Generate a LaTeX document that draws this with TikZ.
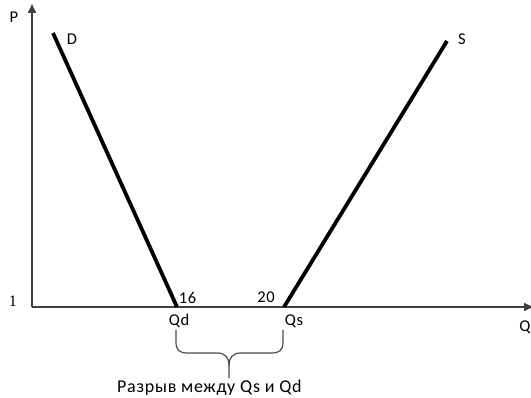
\documentclass[tikz,border=0pt]{standalone}
\usepackage{fontspec}
\setmainfont{Carlito}[LetterSpace=4]
\newfontfamily\serifone{Liberation Serif}
\usetikzlibrary{arrows.meta}
\begin{document}
\begin{tikzpicture}[x=1pt,y=-1pt,
  axis/.style={draw=black!75,line width=1.6pt,-{Triangle[length=9pt,width=8pt]}},
  curve/.style={draw=black,line width=3.8pt},
  lbl/.style={font=\fontsize{16.5}{18}\selectfont,inner sep=0pt},
  bracestyle/.style={draw=black!70,line width=1.2pt}]
\useasboundingbox (0,0) rectangle (531,398);
\coordinate (O) at (32,307);
\coordinate (Ptop) at (32,4);
\coordinate (Qend) at (533,307);
\coordinate (dtop) at (53,33);
\coordinate (dbot) at (177,307);
\coordinate (stop) at (447,41);
\coordinate (sbot) at (284,307);
\draw[axis] (O) -- (Ptop);
\draw[axis] (O) -- (Qend);
\draw[curve] (dtop) -- (dbot);
\draw[curve] (stop) -- (sbot);
\node[lbl] (P) at (14,17) {P};
\node[lbl] (D) at (72,39) {D};
\node[lbl] (S) at (462,39) {S};
\node[lbl,font=\serifone\fontsize{16}{18}\selectfont] (one) at (13,301) {1};
\node[lbl] (n16) at (187.5,297.5) {16};
\node[lbl] (n20) at (266,297.5) {20};
\node[lbl] (Qd) at (179,321) {Qd};
\node[lbl] (Qs) at (294,321) {Qs};
\node[lbl] (Q) at (525,327) {Q};
\coordinate (bl) at (176,330);
\coordinate (br) at (283,330);
\coordinate (btip) at (229,378);
\draw[bracestyle] (bl) -- (176,342) .. controls (176,350) and (179,353) .. (188,353)
  -- (217,353) .. controls (225,353) and (229,357) .. (229,366) -- (btip);
\draw[bracestyle] (br) -- (283,342) .. controls (283,350) and (280,353) .. (271,353)
  -- (241,353) .. controls (233,353) and (229,357) .. (229,366);
\node[lbl,font=\fontsize{18}{20}\selectfont,anchor=base west] (gap) at (117,393) {Разрыв между Qs и Qd};
\end{tikzpicture}
\end{document}
